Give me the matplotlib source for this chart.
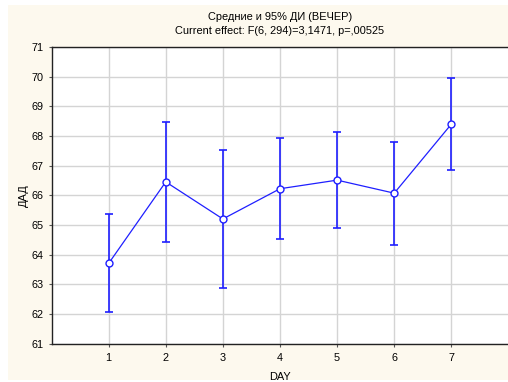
import numpy as np
import matplotlib.pyplot as plt
from matplotlib.patches import Rectangle

plt.rcParams['font.family'] = ['Liberation Sans', 'DejaVu Sans']

days = [1, 2, 3, 4, 5, 6, 7]
means = [63.70, 66.45, 65.20, 66.22, 66.51, 66.07, 68.40]
upper = [65.37, 68.46, 67.53, 67.94, 68.12, 67.80, 69.95]
lower = [62.07, 64.44, 62.87, 64.52, 64.88, 64.33, 66.84]

title = "Средние и 95% ДИ (ВЕЧЕР)\nCurrent effect: F(6, 294)=3,1471, p=,00525"

means = np.array(means)
yerr = [means - np.array(lower), np.array(upper) - means]

fig = plt.figure(figsize=(5.08, 3.82), dpi=100)
fig.patches.append(Rectangle((8/508, 2/382), 500/508, 375/382, transform=fig.transFigure,
                             facecolor='#fdf9ee', edgecolor='none', zorder=-10))
ax = fig.add_axes([51.5/508, 1 - 343.5/382, 457/508, 296.5/382])
ax.set_facecolor('white')

ax.errorbar(days, means, yerr=yerr, fmt='none', ecolor='#1f1fff', elinewidth=1.2,
            capsize=3, capthick=1.2, zorder=3)
ax.plot(days, means, color='#1f1fff', lw=0.9, marker='o', markersize=5,
        markerfacecolor='white', markeredgecolor='#1f1fff', markeredgewidth=1, zorder=4)

ax.set_xlim(0, 8)
ax.set_ylim(61, 71)
ax.set_xticks(days)
ax.set_yticks(range(61, 72))
ax.grid(True, color='#d4d4d4', lw=1)
ax.set_axisbelow(True)
ax.tick_params(labelsize=7.8, length=2, width=0.8, color='#555555')
ax.tick_params(axis='x', pad=5)
ax.spines['right'].set_visible(False)
for s in ['left', 'top', 'bottom']:
    ax.spines[s].set_color('#222222')
    ax.spines[s].set_linewidth(1)

ax.set_title(title, fontsize=7.9, linespacing=1.55, pad=9)
ax.set_xlabel("DAY", fontsize=7.9, labelpad=6)
ax.set_ylabel("ДАД", fontsize=7.9, labelpad=2)

fig.savefig("out.png", dpi=100)
